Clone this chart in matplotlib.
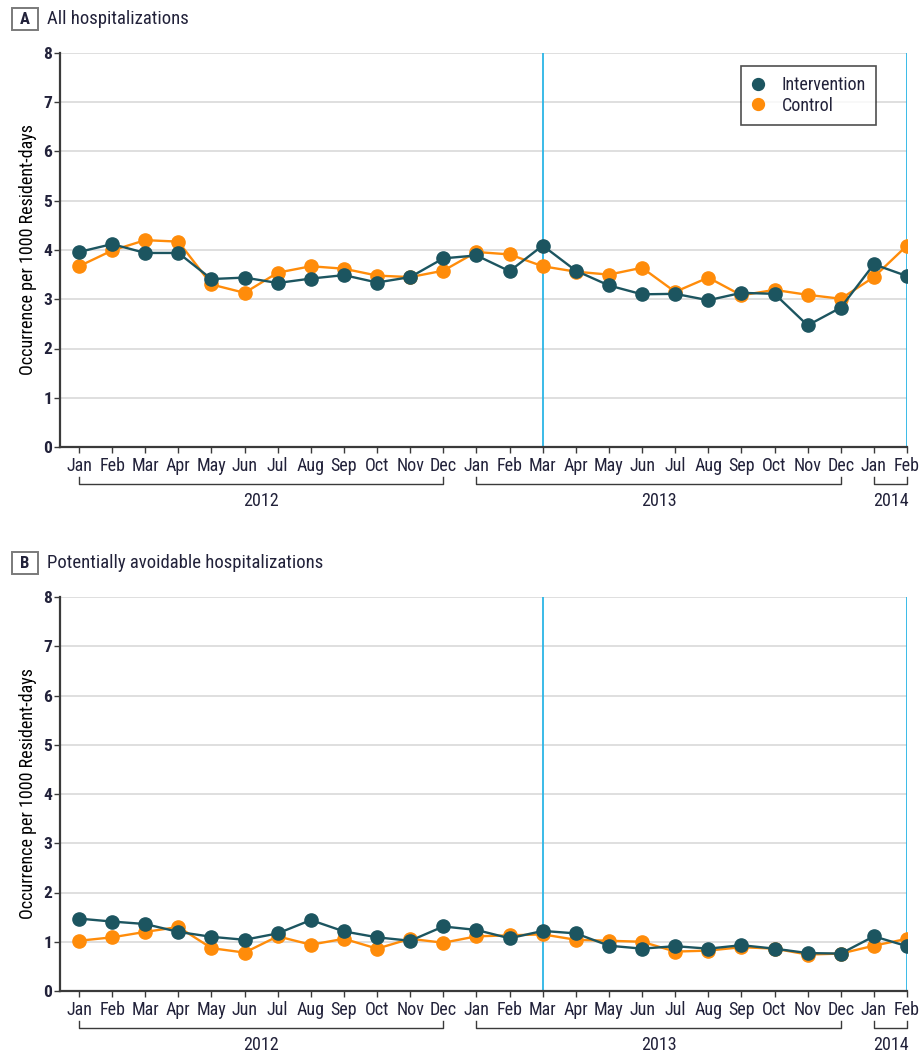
import matplotlib.pyplot as plt
from matplotlib import font_manager
from matplotlib.patches import Rectangle
import matplotlib.transforms as mtransforms

# monthly rates, Jan 2012 .. Feb 2014
months = ['Jan', 'Feb', 'Mar', 'Apr', 'May', 'Jun', 'Jul', 'Aug', 'Sep', 'Oct', 'Nov', 'Dec',
          'Jan', 'Feb', 'Mar', 'Apr', 'May', 'Jun', 'Jul', 'Aug', 'Sep', 'Oct', 'Nov', 'Dec',
          'Jan', 'Feb']
years = [('2012', 0, 11), ('2013', 12, 23), ('2014', 24, 25)]
cutoffs = [14, 25]  # Mar 2013, Feb 2014

all_intervention = [3.96, 4.12, 3.94, 3.94, 3.41, 3.44, 3.33, 3.42, 3.49, 3.34, 3.45, 3.83,
                    3.89, 3.57, 4.09, 3.58, 3.28, 3.10, 3.11, 2.98, 3.13, 3.11, 2.47, 2.83,
                    3.71, 3.47]
all_control = [3.67, 3.99, 4.20, 4.17, 3.30, 3.13, 3.54, 3.67, 3.62, 3.48, 3.45, 3.58,
               3.96, 3.91, 3.67, 3.56, 3.50, 3.64, 3.15, 3.44, 3.08, 3.19, 3.09, 3.01,
               3.45, 4.09]
avoid_intervention = [1.47, 1.41, 1.36, 1.20, 1.10, 1.04, 1.17, 1.44, 1.21, 1.09, 1.02, 1.31,
                      1.24, 1.07, 1.22, 1.17, 0.92, 0.86, 0.91, 0.86, 0.93, 0.86, 0.77, 0.76,
                      1.11, 0.91]
avoid_control = [1.02, 1.09, 1.20, 1.30, 0.87, 0.78, 1.11, 0.94, 1.06, 0.86, 1.06, 0.98,
                 1.11, 1.13, 1.15, 1.04, 1.02, 1.00, 0.80, 0.82, 0.89, 0.86, 0.74, 0.76,
                 0.92, 1.06]

C_INT = '#1c5560'
C_CTL = '#ff8c0a'
C_VLINE = '#2bb5e6'
C_TEXT = '#22223a'

# narrow face if one is around, otherwise plain DejaVu
names = {f.name for f in font_manager.fontManager.ttflist}
narrow = [n for n in ['Liberation Sans Narrow', 'Roboto Condensed', 'Open Sans Condensed',
                      'DejaVu Sans Condensed'] if n in names]
plt.rcParams['font.family'] = narrow[:1] + ['DejaVu Sans']
plt.rcParams['font.stretch'] = 'condensed'
plt.rcParams['text.color'] = C_TEXT

fig = plt.figure(figsize=(9.21, 10.57), dpi=100)
W, H = 921, 1057


def panel(top_px, letter, title, inter, ctrl, show_legend):
    ax = fig.add_axes([60 / W, 1 - (top_px + 394) / H, 847 / W, 394 / H])
    x = list(range(len(months)))
    ax.set_xlim(-0.574, 25)
    ax.set_ylim(0, 8)
    ax.set_yticks(range(9))
    ax.grid(axis='y', color='#dcdcdc', linewidth=1.3)
    ax.set_axisbelow(True)
    for c in cutoffs:
        ax.axvline(c, color=C_VLINE, linewidth=1.3, zorder=1)
    ax.plot(x, ctrl, '-o', color=C_CTL, lw=1.7, ms=9.5, zorder=3, label='Control')
    ax.plot(x, inter, '-o', color=C_INT, lw=1.7, ms=9.5, zorder=4, label='Intervention')
    for s in ['top', 'right']:
        ax.spines[s].set_visible(False)
    for s in ['left', 'bottom']:
        ax.spines[s].set_color('#3a3a3a')
        ax.spines[s].set_linewidth(1.6)
    ax.set_xticks(x)
    ax.set_xticklabels(months, fontsize=13)
    ax.set_yticklabels([str(v) for v in range(9)], fontsize=12.5, fontweight='bold')
    ax.tick_params(axis='x', length=4, width=1, color='#3a3a3a', pad=3, labelcolor=C_TEXT)
    ax.tick_params(axis='y', length=4, width=1, color='#3a3a3a', pad=1.5, labelcolor=C_TEXT)
    ax.set_ylabel('Occurrence per 1000 Resident-days', fontsize=13, labelpad=5)

    # year brackets under the month labels
    tr = mtransforms.blended_transform_factory(ax.transData, ax.transAxes)
    for yr, a, b in years:
        ax.plot([a, a, b, b], [-0.076, -0.094, -0.094, -0.076], transform=tr,
                color='#3a3a3a', lw=1, clip_on=False)
        ax.text((a + b) / 2, -0.113, yr, transform=tr, ha='center', va='top', fontsize=13)

    # panel letter box and title
    ty = 1 - (top_px - 34) / H
    fig.patches.append(Rectangle((12 / W, ty - 11 / H), 26 / W, 22 / H, transform=fig.transFigure,
                                 fill=False, edgecolor='#7a7a7a', lw=1.4))
    fig.text(25 / W, ty, letter, ha='center', va='center', fontsize=12, fontweight='bold')
    fig.text(47 / W, ty, title, ha='left', va='center', fontsize=13.5)

    if show_legend:
        h, l = ax.get_legend_handles_labels()
        leg = ax.legend(h[::-1], l[::-1], loc='upper right', bbox_to_anchor=(0.963, 0.967),
                        fontsize=13, frameon=True, fancybox=False, handlelength=0.8,
                        handletextpad=0.9, borderpad=0.55, borderaxespad=0,
                        labelspacing=0.15, markerscale=0.9)
        for line in leg.get_lines():
            line.set_linestyle('none')
        leg.get_frame().set_edgecolor('#222222')
        leg.get_frame().set_linewidth(1.2)
    return ax


panel(53, 'A', 'All hospitalizations', all_intervention, all_control, True)
panel(597, 'B', 'Potentially avoidable hospitalizations', avoid_intervention, avoid_control, False)

fig.savefig('out.png', dpi=100, facecolor='white')
